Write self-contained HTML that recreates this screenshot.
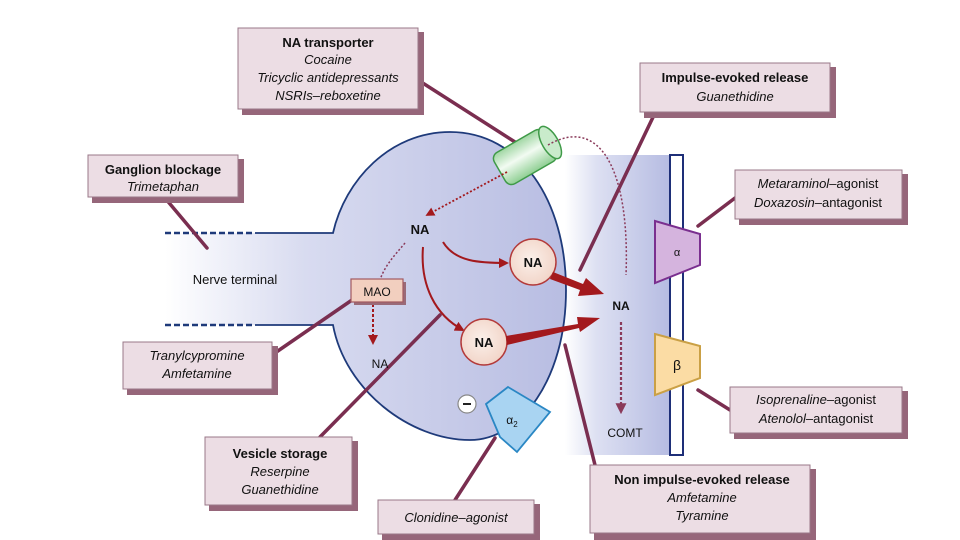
<!DOCTYPE html>
<html><head><meta charset="utf-8"><style>
body{margin:0;background:#fff}
svg{display:block}
text{font-family:"Liberation Sans",sans-serif;fill:#111}
.b{font-weight:bold}
.i{font-style:italic}
</style></head><body>
<svg width="960" height="540" viewBox="0 0 960 540">
<defs>
<linearGradient id="body" x1="0" x2="1" y1="0" y2="0">
<stop offset="0" stop-color="#fff"/><stop offset="0.35" stop-color="#d8dbf0"/><stop offset="1" stop-color="#b8bde2"/></linearGradient>
<linearGradient id="cleft" x1="0" x2="1" y1="0" y2="0">
<stop offset="0" stop-color="#fff"/><stop offset="0.3" stop-color="#dde0f2"/><stop offset="1" stop-color="#b6bce2"/></linearGradient>
<linearGradient id="cyl" x1="0" x2="0" y1="0" y2="1">
<stop offset="0" stop-color="#9fd6a2"/><stop offset="0.45" stop-color="#f2fbf2"/><stop offset="1" stop-color="#8fcf93"/></linearGradient>
<radialGradient id="ves" cx="0.45" cy="0.45" r="0.6"><stop offset="0" stop-color="#fbf0ea"/><stop offset="1" stop-color="#f1d3c6"/></radialGradient>
<marker id="ah" viewBox="0 0 10 10" refX="8" refY="5" markerWidth="5" markerHeight="5" orient="auto"><path d="M0,0L10,5L0,10z" fill="#a3191d"/></marker>
<marker id="ahp" viewBox="0 0 10 10" refX="8" refY="5" markerWidth="5" markerHeight="5" orient="auto"><path d="M0,0L10,5L0,10z" fill="#8a3a5a"/></marker>
</defs>

<rect x="565" y="155" width="105" height="300" fill="url(#cleft)"/>
<rect x="670" y="155" width="13" height="300" fill="#fff" stroke="#1e2f78" stroke-width="2"/>

<path d="M165,233 L333,233 C345,180 390,132 450,132 C520,132 566,200 566,290 C566,380 520,440 470,440 C410,440 345,390 333,325 L165,325 Z" fill="url(#body)"/>
<path d="M255,233 L333,233 C345,180 390,132 450,132 C520,132 566,200 566,290 C566,380 520,440 470,440 C410,440 345,390 333,325 L255,325" fill="none" stroke="#1e3a7a" stroke-width="1.8"/>
<line x1="165" y1="233" x2="255" y2="233" stroke="#1e3a7a" stroke-width="2.5" stroke-dasharray="6,3"/>
<line x1="165" y1="325" x2="255" y2="325" stroke="#1e3a7a" stroke-width="2.5" stroke-dasharray="6,3"/>

<g stroke="#7a2e50" stroke-width="3.5" fill="none" stroke-linecap="round">
<line x1="418" y1="80" x2="515" y2="142"/>
<line x1="655" y1="113" x2="580" y2="270"/>
<line x1="165" y1="198" x2="207" y2="248"/>
<line x1="735" y1="198" x2="698" y2="226"/>
<line x1="272" y1="355" x2="352" y2="300"/>
<line x1="730" y1="410" x2="698" y2="390"/>
<line x1="320" y1="437" x2="440" y2="315"/>
<line x1="455" y1="500" x2="495" y2="438"/>
<line x1="595" y1="465" x2="565" y2="345"/>
</g>

<g transform="translate(525,157) rotate(-30)">
<rect x="-29" y="-18" width="58" height="36" rx="7" fill="url(#cyl)" stroke="#3f9a48" stroke-width="1.5"/>
<ellipse cx="29" cy="0" rx="8" ry="18" fill="#c9ebcb" stroke="#3f9a48" stroke-width="1.5"/>
</g>

<path d="M507,172 L427,215" fill="none" stroke="#a3191d" stroke-width="1.8" stroke-dasharray="2,2" marker-end="url(#ah)"/>
<path d="M548,145 C600,115 630,170 626,275" fill="none" stroke="#8a3a5a" stroke-width="1.5" stroke-dasharray="2,2"/>
<path d="M405,243 C395,255 385,265 380,280" fill="none" stroke="#8a3a5a" stroke-width="1.5" stroke-dasharray="2,2"/>
<path d="M373,304 L373,343" fill="none" stroke="#a3191d" stroke-width="2" stroke-dasharray="3,2" marker-end="url(#ah)"/>
<path d="M621,322 L621,412" fill="none" stroke="#8a3a5a" stroke-width="2.2" stroke-dasharray="3,2" marker-end="url(#ahp)"/>

<path d="M443,242 C455,262 480,263 507,263" fill="none" stroke="#a3191d" stroke-width="2" marker-end="url(#ah)"/>
<path d="M423,247 C420,285 435,315 463,330" fill="none" stroke="#a3191d" stroke-width="2" marker-end="url(#ah)"/>

<circle cx="533" cy="262" r="23" fill="url(#ves)" stroke="#b33a3a" stroke-width="1.5"/>
<circle cx="484" cy="342" r="23" fill="url(#ves)" stroke="#b33a3a" stroke-width="1.5"/>

<path d="M553,272 L583,284 L586,278 L604,294 L578,296 L580,290 L550,279 Z" fill="#a3191d"/>
<path d="M506,336 L578,324 L577,317 L600,318 L580,332 L579,328 L507,345 Z" fill="#a3191d"/>

<rect x="354" y="282" width="52" height="23" fill="#9a6a78"/>
<rect x="351" y="279" width="52" height="23" fill="#f2cfbf" stroke="#a25a62" stroke-width="1.2"/>
<text x="377" y="296" font-size="12" text-anchor="middle">MAO</text>

<path d="M655,221 L700,234 L700,265 L655,283 Z" fill="#d5b4de" stroke="#7a2f8f" stroke-width="2"/>
<text x="677" y="256" font-size="11" text-anchor="middle" font-family="Liberation Serif">α</text>
<path d="M655,334 L700,346 L700,378 L655,395 Z" fill="#fbdca4" stroke="#caa045" stroke-width="2"/>
<text x="677" y="370" font-size="14" text-anchor="middle" font-family="Liberation Serif">β</text>
<path d="M486,404 L508,387 L550,412 L517,452 L500,437 Z" fill="#a9d4f2" stroke="#2a87c4" stroke-width="1.8"/>
<text x="512" y="424" font-size="12" text-anchor="middle" font-family="Liberation Serif">α<tspan font-size="8" dy="3">2</tspan></text>
<circle cx="467" cy="404" r="9" fill="#fff" stroke="#888" stroke-width="1.2"/>
<line x1="463" y1="404" x2="471" y2="404" stroke="#222" stroke-width="2"/>

<text x="420" y="234" font-size="13" class="b" text-anchor="middle">NA</text>
<text x="533" y="267" font-size="13" class="b" text-anchor="middle">NA</text>
<text x="484" y="347" font-size="13" class="b" text-anchor="middle">NA</text>
<text x="380" y="368" font-size="12" text-anchor="middle">NA</text>
<text x="621" y="310" font-size="12" class="b" text-anchor="middle">NA</text>
<text x="625" y="437" font-size="12" text-anchor="middle">COMT</text>
<text x="235" y="284" font-size="13" text-anchor="middle">Nerve terminal</text>

<g fill="#96667a">
<rect x="242" y="32" width="182" height="83"/>
<rect x="644" y="67" width="192" height="51"/>
<rect x="92" y="159" width="152" height="44"/>
<rect x="739" y="174" width="169" height="51"/>
<rect x="127" y="346" width="151" height="49"/>
<rect x="734" y="391" width="174" height="48"/>
<rect x="209" y="441" width="149" height="70"/>
<rect x="382" y="504" width="158" height="36"/>
<rect x="594" y="469" width="222" height="71"/>
</g>
<g fill="#ecdde4" stroke="#9a7888" stroke-width="1">
<rect x="238" y="28" width="180" height="81"/>
<rect x="640" y="63" width="190" height="49"/>
<rect x="88" y="155" width="150" height="42"/>
<rect x="735" y="170" width="167" height="49"/>
<rect x="123" y="342" width="149" height="47"/>
<rect x="730" y="387" width="172" height="46"/>
<rect x="205" y="437" width="147" height="68"/>
<rect x="378" y="500" width="156" height="34"/>
<rect x="590" y="465" width="220" height="68"/>
</g>
<g font-size="13" text-anchor="middle">
<text x="328" y="47" class="b">NA transporter</text>
<text x="328" y="64" class="i">Cocaine</text>
<text x="328" y="82" class="i">Tricyclic antidepressants</text>
<text x="328" y="100" class="i">NSRIs–reboxetine</text>
<text x="735" y="82" class="b">Impulse-evoked release</text>
<text x="735" y="101" class="i">Guanethidine</text>
<text x="163" y="174" class="b">Ganglion blockage</text>
<text x="163" y="191" class="i">Trimetaphan</text>
<text x="818" y="188"><tspan class="i">Metaraminol</tspan>–agonist</text>
<text x="818" y="207"><tspan class="i">Doxazosin</tspan>–antagonist</text>
<text x="197" y="360" class="i">Tranylcypromine</text>
<text x="197" y="378" class="i">Amfetamine</text>
<text x="816" y="404"><tspan class="i">Isoprenaline</tspan>–agonist</text>
<text x="816" y="423"><tspan class="i">Atenolol</tspan>–antagonist</text>
<text x="280" y="458" class="b">Vesicle storage</text>
<text x="280" y="476" class="i">Reserpine</text>
<text x="280" y="494" class="i">Guanethidine</text>
<text x="456" y="522" class="i">Clonidine–agonist</text>
<text x="702" y="484" class="b">Non impulse-evoked release</text>
<text x="702" y="502" class="i">Amfetamine</text>
<text x="702" y="520" class="i">Tyramine</text>
</g>
</svg>
</body></html>
